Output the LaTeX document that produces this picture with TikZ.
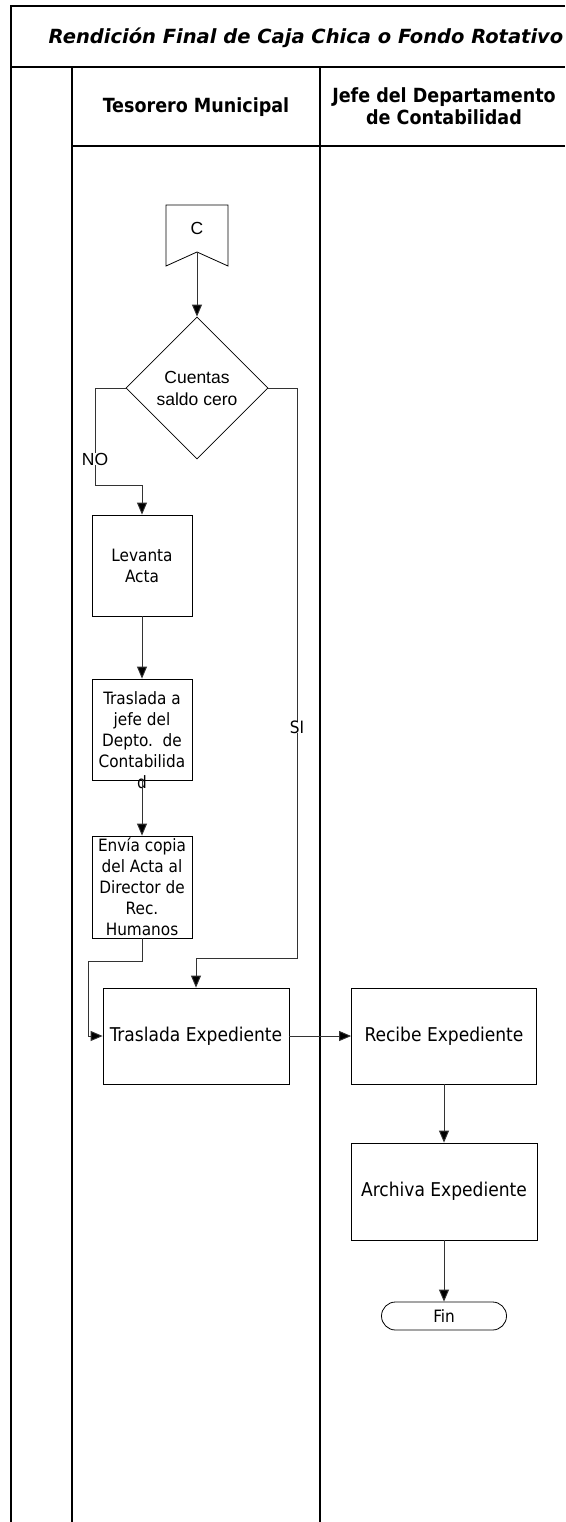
\documentclass[tikz,border=0pt]{standalone}
\usepackage{fontspec}
\setmainfont{Liberation Sans}
\newfontfamily\tahfont{DejaVu Sans Condensed}
\newfontfamily\verfont{DejaVu Sans}
\usetikzlibrary{arrows.meta,shapes.geometric}

\begin{document}
\begin{tikzpicture}[x=1pt,y=-1pt,
  frame/.style={line width=1.4pt,draw=black},
  box/.style={draw=black,line width=0.8pt,inner sep=0pt,fill=white},
  conn/.style={line width=0.9pt,draw=black!80,-{Triangle[length=12pt,width=10pt,fill=black]}},
  hdr/.style={font=\tahfont\bfseries\fontsize{19.5}{22}\selectfont,align=center,inner sep=0pt},
  btxt/.style={font=\tahfont\fontsize{19}{22}\selectfont,align=center,inner sep=0pt},
  stxt/.style={font=\tahfont\fontsize{17}{21}\selectfont,align=center,inner sep=0pt},
  atxt/.style={font=\fontsize{17.5}{22}\selectfont,align=center,inner sep=0pt},
  lbl/.style={fill=white,inner sep=1.5pt},
]
\useasboundingbox (0,0) rectangle (565,1522);

% swimlane frame
\draw[frame] (11,1522) -- (11,6) -- (565,6);
\draw[frame] (11,67) -- (565,67);
\draw[frame] (72,67) -- (72,1522);
\draw[frame] (320,67) -- (320,1522);
\draw[frame] (72,146) -- (565,146);

% titles
\node[font=\verfont\bfseries\itshape\fontsize{19.5}{22}\selectfont,inner sep=0pt] (title) at (306,38) {Rendición Final de Caja Chica o Fondo Rotativo};
\node[hdr] (lane1) at (196,107) {Tesorero Municipal};
\node[hdr] (lane2) at (444,106) {Jefe del Departamento\\de Contabilidad};

% off-page connector C
\draw[box] (166,205) -- (228,205) -- (228,266) -- (197,252) -- (166,266) -- cycle;
\node[atxt] (ctext) at (197,228) {C};
\coordinate (cnotch) at (197,252);

% decision
\node[draw=black,line width=0.8pt,diamond,minimum width=142pt,minimum height=142pt,inner sep=0pt,atxt] (dec) at (197,388) {Cuentas\\saldo cero};

% process boxes, left lane
\node[box,minimum width=100pt,minimum height=101pt] (acta) at (142,565.5) {};
\node[stxt] (actat) at (acta.center) {Levanta\\Acta};
\node[box,minimum width=100pt,minimum height=101pt] (tras) at (142,729.5) {};
\node[stxt] (trast) at (142,740.5) {Traslada a\\jefe del\\Depto.\ \ de\\Contabilida\\d};
\node[box,minimum width=100pt,minimum height=102pt] (envia) at (142,887) {};
\node[stxt] (enviat) at (envia.center) {Envía copia\\del Acta al\\Director de\\Rec.\\Humanos};
\node[box,minimum width=186pt,minimum height=96pt] (exp) at (196,1036) {};
\node[btxt] (expt) at (exp.center) {Traslada Expediente};

% process boxes, right lane
\node[box,minimum width=185pt,minimum height=96pt] (rec) at (444,1036) {};
\node[btxt] (rect) at (rec.center) {Recibe Expediente};
\node[box,minimum width=186pt,minimum height=97pt] (arch) at (444,1191.5) {};
\node[btxt] (archt) at (arch.center) {Archiva Expediente};
\node[box,minimum width=125pt,minimum height=28pt,rounded corners=14pt] (fin) at (444,1316) {};
\node[stxt] (fint) at (fin.center) {Fin};

% connectors
\draw[conn] (cnotch) -- (dec.north);

\coordinate (noA) at (95,388);
\coordinate (noB) at (95,485);
\draw[conn] (dec.west) -- (noA) -- (noB) -| (acta.north);
\node[lbl,atxt] (nolbl) at (95,459) {NO};

\draw[conn] (acta.south) -- (tras.north);
\draw[conn] (tras.south) -- (envia.north);

\coordinate (evA) at (142,961);
\coordinate (evB) at (88,961);
\draw[conn] (envia.south) -- (evA) -- (evB) |- (exp.west);

\coordinate (siA) at (297,388);
\coordinate (siB) at (297,958);
\draw[conn] (dec.east) -- (siA) -- (siB) -| (exp.north);
\node[lbl,stxt] (silbl) at (297,727) {SI};

\draw[conn] (exp.east) -- (rec.west);
\draw[conn] (rec.south) -- (arch.north);
\draw[conn] (arch.south) -- (fin.north);
\end{tikzpicture}
\end{document}
